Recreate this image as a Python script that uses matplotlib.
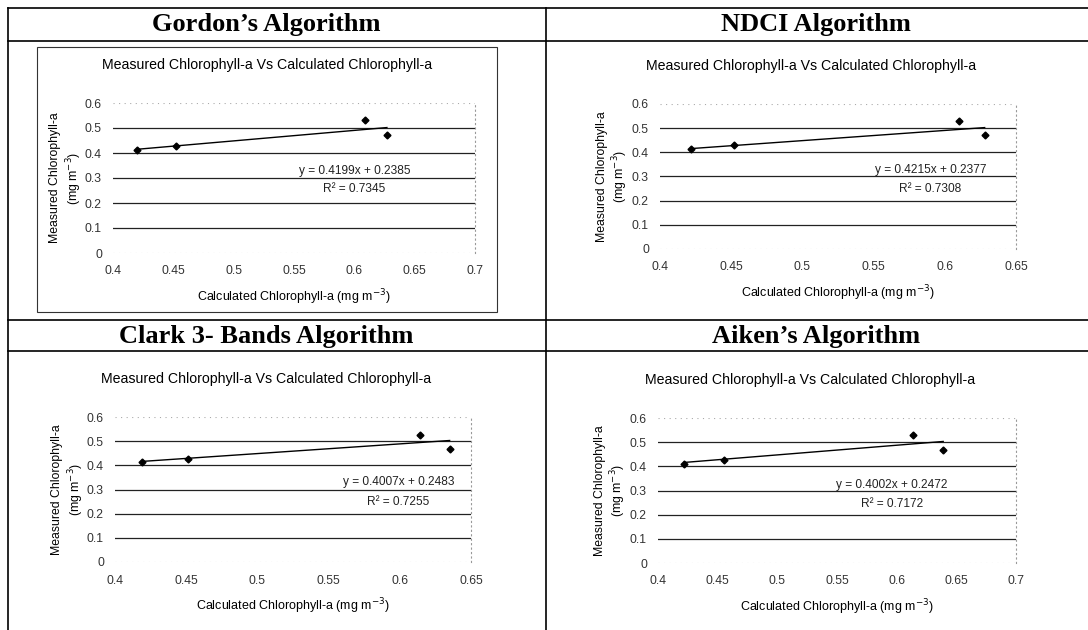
"""four-panel comparison of measured vs calculated chlorophyll-a"""

import matplotlib
matplotlib.use("Agg")
import matplotlib.pyplot as plt
from matplotlib.lines import Line2D
from matplotlib.patches import Rectangle

W, H = 1088, 630

algorithms = ["Gordon\u2019s Algorithm", "NDCI Algorithm",
              "Clark 3- Bands Algorithm", "Aiken\u2019s Algorithm"]

gordon_x = [0.420, 0.452, 0.609, 0.627]
gordon_y = [0.413, 0.429, 0.531, 0.473]
ndci_x = [0.422, 0.452, 0.610, 0.628]
ndci_y = [0.414, 0.429, 0.531, 0.472]
clark_x = [0.419, 0.451, 0.614, 0.635]
clark_y = [0.414, 0.428, 0.527, 0.469]
aiken_x = [0.422, 0.455, 0.614, 0.639]
aiken_y = [0.411, 0.427, 0.529, 0.467]

slopes = [0.4199, 0.4215, 0.4007, 0.4002]
intercepts = [0.2385, 0.2377, 0.2483, 0.2472]
r_squared = [0.7345, 0.7308, 0.7255, 0.7172]
x_limits = [0.7, 0.65, 0.65, 0.7]
y_ticks = [0, 0.1, 0.2, 0.3, 0.4, 0.5, 0.6]

all_x = [gordon_x, ndci_x, clark_x, aiken_x]
all_y = [gordon_y, ndci_y, clark_y, aiken_y]

# pixel layout of each plot area: left, right, top (y=0.6), bottom (y=0)
plot_boxes = [(113, 475, 103, 253), (660, 1016, 104, 249),
              (115, 471, 417, 562), (658, 1016, 418, 563)]
header_centers = [(266, 25), (816, 25), (266, 336), (816, 336)]
eq_pos = [(0.600, 0.328, 0.256), (0.590, 0.327, 0.248),
          (0.599, 0.331, 0.248), (0.596, 0.323, 0.244)]

sans = ["Liberation Sans", "DejaVu Sans"]
serif = ["Liberation Serif", "DejaVu Serif"]


def fx(px):
    return px / W


def fy(py):
    return 1 - py / H


def draw_panel(fig, idx):
    left, right, top, bottom = plot_boxes[idx]
    ax = fig.add_axes([fx(left), fy(bottom), fx(right - left), (bottom - top) / H])
    xmax = x_limits[idx]
    ax.set_xlim(0.4, xmax)
    ax.set_ylim(0, 0.6)
    step = 0.05
    n = int(round((xmax - 0.4) / step))
    xt = [round(0.4 + i * step, 2) for i in range(n + 1)]
    ax.set_xticks(xt)
    ax.set_xticklabels([f"{v:g}" for v in xt], fontsize=8.8, family=sans, color="#333333")
    ax.set_yticks(y_ticks)
    ax.set_yticklabels([f"{v:g}" for v in y_ticks], fontsize=8.8, family=sans, color="#333333")
    ax.tick_params(length=0, pad=9)
    ax.tick_params(axis="y", pad=8)
    for s in ["left", "bottom", "top"]:
        ax.spines[s].set_visible(False)
    ax.spines["right"].set_linestyle((0, (1, 3)))
    ax.spines["right"].set_color("#999999")
    ax.spines["right"].set_linewidth(0.8)
    for v in y_ticks:
        if v in (0, 0.6):
            ax.axhline(v, color="#aaaaaa", lw=0.8, ls=(0, (1, 4)), zorder=1)
        else:
            ax.axhline(v, color="#222222", lw=0.9, zorder=1)

    xs, ys = all_x[idx], all_y[idx]
    x0, x1 = min(xs), max(xs)
    m, b = slopes[idx], intercepts[idx]
    ax.plot([x0, x1], [m * x0 + b, m * x1 + b], color="black", lw=1.0, zorder=3)
    ax.plot(xs, ys, ls="none", marker="D", ms=3.5, color="black", zorder=4)

    ex, ey, ry = eq_pos[idx]
    ax.text(ex, ey, f"y = {m:.4f}x + {b:.4f}", ha="center", va="center",
            fontsize=8.6, family=sans, color="#222222", zorder=5)
    ax.text(ex, ry, f"R\u00b2 = {r_squared[idx]:.4f}", ha="center", va="center",
            fontsize=8.6, family=sans, color="#222222", zorder=5)

    ax.set_xlabel("Calculated Chlorophyll-a (mg m$^{-3}$)", fontsize=9,
                  family=sans, labelpad=7)
    ax.set_ylabel("Measured Chlorophyll-a\n(mg m$^{-3}$)", fontsize=8.8,
                  family=sans, labelpad=1, linespacing=1.2)
    fig.text(fx((left + right) / 2 - 27), fy(top - 38),
             "Measured Chlorophyll-a Vs Calculated Chlorophyll-a",
             ha="center", va="center", fontsize=10.2, family=sans)
    return ax


fig = plt.figure(figsize=(W / 100, H / 100), dpi=100)
fig.patch.set_facecolor("white")

# table grid
table_lines = [
    ([8, W], [8, 8]), ([8, W], [41, 41]),
    ([8, W], [320, 320]), ([8, W], [351, 351]),
    ([8, 8], [8, H]), ([546, 546], [8, H]),
]
for xs, ys in table_lines:
    fig.add_artist(Line2D([fx(v) for v in xs], [fy(v) for v in ys],
                          color="black", lw=1.2))

# chart border around Gordon's chart
fig.add_artist(Rectangle((fx(37), fy(312)), fx(497 - 37), (312 - 47) / H,
                         fill=False, edgecolor="#333333", lw=0.8))

for i, name in enumerate(algorithms):
    cx, cy = header_centers[i]
    fig.text(fx(cx), fy(cy), name, ha="center", va="center",
             fontsize=19, fontweight="bold", family=serif)
    draw_panel(fig, i)

fig.savefig("out.png", dpi=100)
